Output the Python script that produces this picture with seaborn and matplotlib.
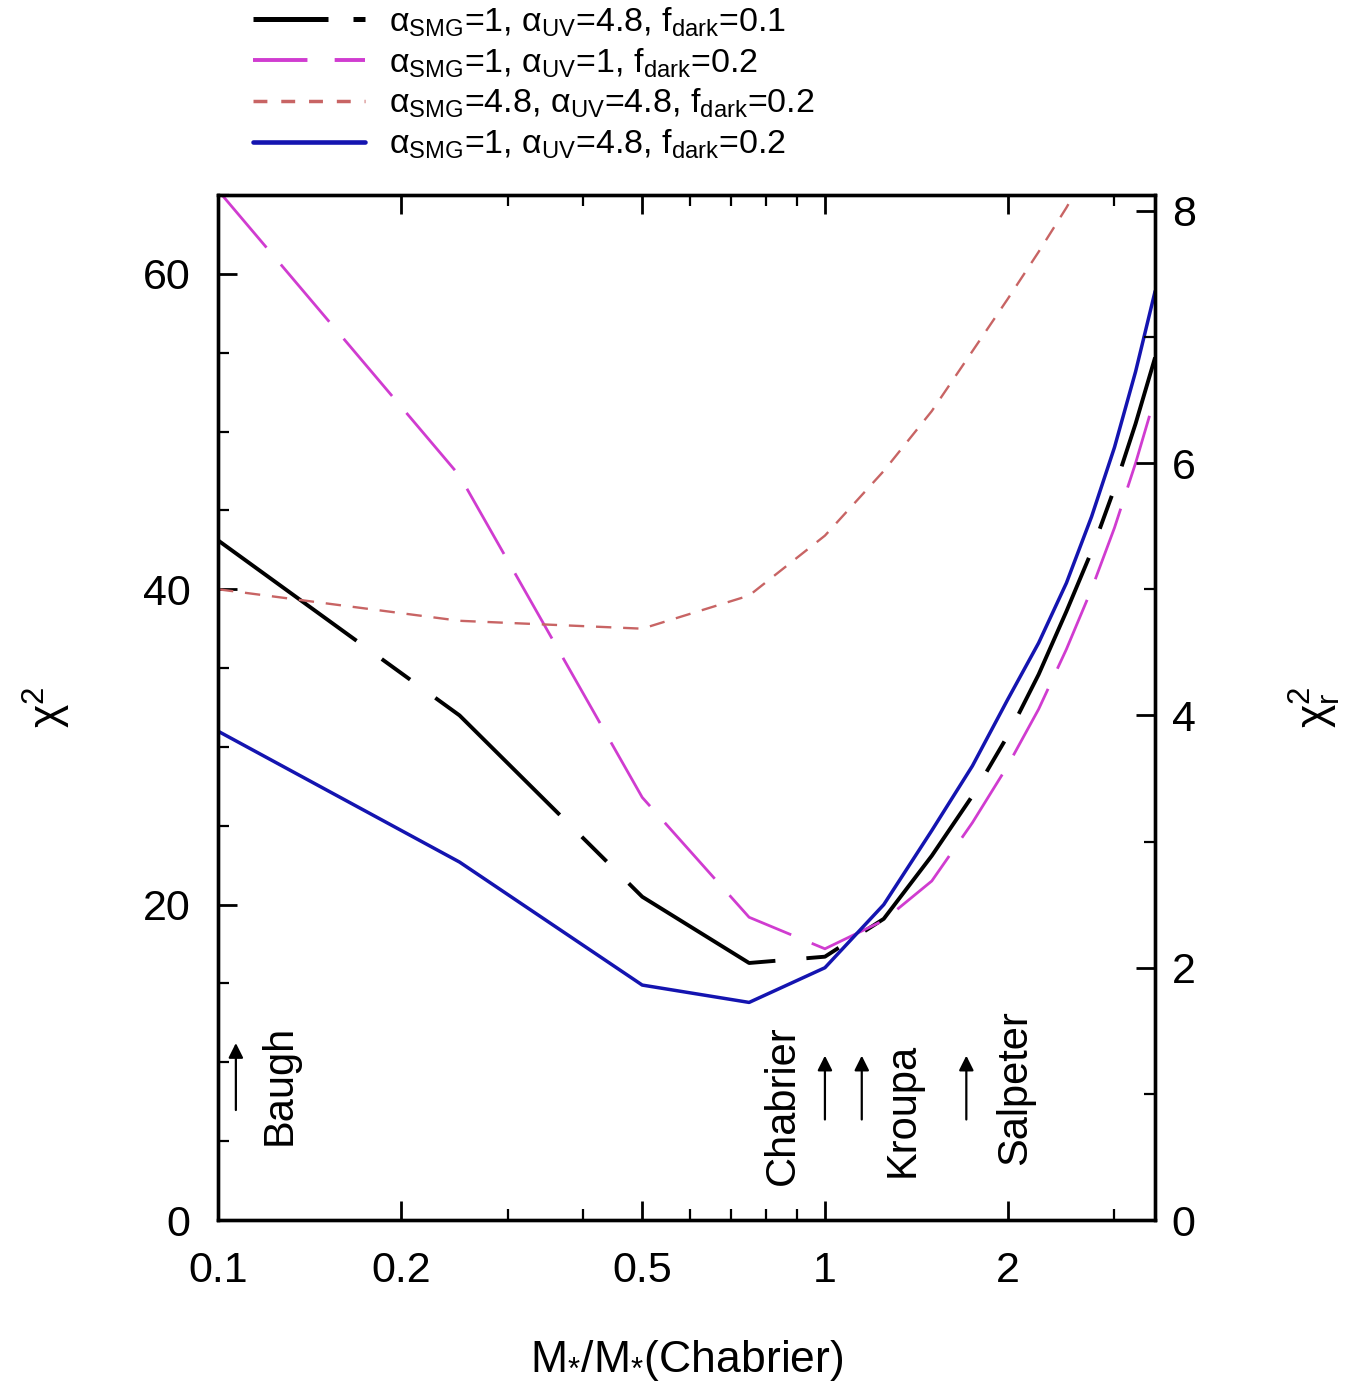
import numpy as np
import pandas as pd
import matplotlib
matplotlib.use("Agg")
import matplotlib.pyplot as plt
from matplotlib.lines import Line2D
from matplotlib.ticker import FixedLocator, NullFormatter, MultipleLocator
import seaborn as sns

# Stellar mass ratio relative to Chabrier IMF
mass_ratio = [0.1, 0.25, 0.5, 0.75, 1.0, 1.25, 1.5, 1.75, 2.0, 2.25, 2.5, 2.75, 3.0, 3.25, 3.5]

# chi^2 for each model configuration
chi2_smg1_uv48_fd01 = [43.1, 32.0, 20.5, 16.3, 16.7, 19.1, 23.1, 26.9, 30.7, 34.6, 38.6, 42.4, 46.4, 50.5, 54.7]
chi2_smg1_uv1_fd02 = [65.3, 47.2, 26.8, 19.2, 17.2, 19.0, 21.5, 25.2, 28.8, 32.4, 36.2, 40.0, 43.9, 48.0, 52.2]
chi2_smg48_uv48_fd02 = [40.0, 38.0, 37.5, 39.6, 43.4, 47.5, 51.3, 55.1, 58.4, 61.4, 64.2, 67.0, 70.0, 73.0, 76.0]
chi2_smg1_uv48_fd02 = [31.0, 22.7, 14.9, 13.8, 16.0, 20.0, 24.7, 28.8, 33.0, 36.6, 40.4, 44.6, 49.0, 53.8, 58.9]

series_labels = [
    r"α$_{\mathrm{SMG}}$=1, α$_{\mathrm{UV}}$=4.8, f$_{\mathrm{dark}}$=0.1",
    r"α$_{\mathrm{SMG}}$=1, α$_{\mathrm{UV}}$=1, f$_{\mathrm{dark}}$=0.2",
    r"α$_{\mathrm{SMG}}$=4.8, α$_{\mathrm{UV}}$=4.8, f$_{\mathrm{dark}}$=0.2",
    r"α$_{\mathrm{SMG}}$=1, α$_{\mathrm{UV}}$=4.8, f$_{\mathrm{dark}}$=0.2",
]

# IMF markers: name, arrow position, label position
imf_names = ["Baugh", "Chabrier", "Kroupa", "Salpeter"]
imf_arrow_x = [0.107, 1.0, 1.15, 1.71]
imf_label_x = [0.1265, 0.853, 1.345, 2.06]
imf_label_y = [8.6, 7.3, 7.0, 8.4]

DOF = 8.0

sns.set_style("ticks")
plt.rcParams["font.family"] = ["Liberation Sans", "DejaVu Sans"]
plt.rcParams["mathtext.fontset"] = "custom"
plt.rcParams["mathtext.rm"] = "Liberation Sans"
plt.rcParams["mathtext.it"] = "Liberation Sans:italic"
plt.rcParams["mathtext.bf"] = "Liberation Sans:bold"
for key in ["text.color", "axes.labelcolor", "xtick.color", "ytick.color", "axes.edgecolor"]:
    plt.rcParams[key] = "black"

fig = plt.figure(figsize=(13.67, 13.98), dpi=100)
ax = fig.add_axes([0.1595, 0.1273, 0.6855, 0.7332])

styles = [
    dict(color="black", lw=2.8, linestyle=(0, (44, 8, 9, 8))),
    dict(color="#d03cd0", lw=2.0, linestyle=(0, (27, 8))),
    dict(color="#c86464", lw=1.7, linestyle=(0, (6.5, 5))),
    dict(color="#1414b0", lw=2.5, linestyle="-"),
]
legend_styles = [
    (0, (15, 5, 5, 5)),
    (0, (14, 7)),
    (0, (4, 4)),
    "-",
]
all_series = [chi2_smg1_uv48_fd01, chi2_smg1_uv1_fd02, chi2_smg48_uv48_fd02, chi2_smg1_uv48_fd02]

for vals, st in zip(all_series, styles):
    df = pd.DataFrame({"mass_ratio": mass_ratio, "chi2": vals})
    sns.lineplot(data=df, x="mass_ratio", y="chi2", ax=ax, errorbar=None,
                 color=st["color"], linewidth=st["lw"], linestyle=st["linestyle"])

ax.set_xscale("log")
ax.set_xlim(0.1, 3.5)
ax.set_ylim(0, 65)

ax.xaxis.set_major_locator(FixedLocator([0.1, 0.2, 0.5, 1, 2]))
ax.set_xticklabels(["0.1", "0.2", "0.5", "1", "2"])
ax.xaxis.set_minor_locator(FixedLocator([0.3, 0.4, 0.6, 0.7, 0.8, 0.9, 3.0]))
ax.xaxis.set_minor_formatter(NullFormatter())
ax.yaxis.set_major_locator(MultipleLocator(20))
ax.yaxis.set_minor_locator(MultipleLocator(5))

ax.tick_params(axis="x", which="both", direction="in", top=True, bottom=True)
ax.tick_params(axis="y", which="both", direction="in", left=True, right=False)
ax.tick_params(which="major", length=14, width=2.0, labelsize=31)
ax.tick_params(axis="x", which="major", pad=22)
ax.tick_params(axis="y", which="major", pad=20)
ax.tick_params(which="minor", length=8, width=1.6)
for sp in ax.spines.values():
    sp.set_linewidth(2.4)
    sp.set_color("black")

ax.set_xlabel(r"M$_{*}$/M$_{*}$(Chabrier)", fontsize=32, labelpad=34)
ax.set_ylabel(r"χ$^{2}$", fontsize=32, labelpad=50)

# reduced chi^2 on the right axis
ax2 = ax.twinx()
ax2.set_ylim(0, 65 / DOF)
ax2.yaxis.set_major_locator(MultipleLocator(2))
ax2.yaxis.set_minor_locator(MultipleLocator(1))
ax2.tick_params(axis="y", which="both", direction="in", right=True, left=False)
ax2.tick_params(which="major", length=14, width=2.0, labelsize=31, pad=12)
ax2.tick_params(which="minor", length=8, width=1.6)
for sp in ax2.spines.values():
    sp.set_linewidth(2.4)
ax2.set_ylabel(r"χ$_{\mathrm{r}}^{2}$", fontsize=32, labelpad=66)
ax2.grid(False)

# IMF arrows and names
for name, ax_x, lx, ly in zip(imf_names, imf_arrow_x, imf_label_x, imf_label_y):
    ax.annotate("", xy=(ax_x, 11.4 if name == "Baugh" else 10.6),
                xytext=(ax_x, 6.8 if name == "Baugh" else 6.2),
                arrowprops=dict(arrowstyle="-|>", color="black", lw=1.6,
                                mutation_scale=22))
    ax.text(lx, ly, name, rotation=90, ha="center", va="center", fontsize=30)

handles = [Line2D([0], [0], color=st["color"], lw=st["lw"] + 0.8, linestyle=ls)
           for st, ls in zip(styles, legend_styles)]
fig.legend(handles, series_labels, loc="upper left", bbox_to_anchor=(0.175, 1.006),
           frameon=False, fontsize=24.5, handlelength=3.3, handletextpad=0.7,
           labelspacing=0.22, borderaxespad=0.0)

fig.savefig("out.png", dpi=100, facecolor="white")
